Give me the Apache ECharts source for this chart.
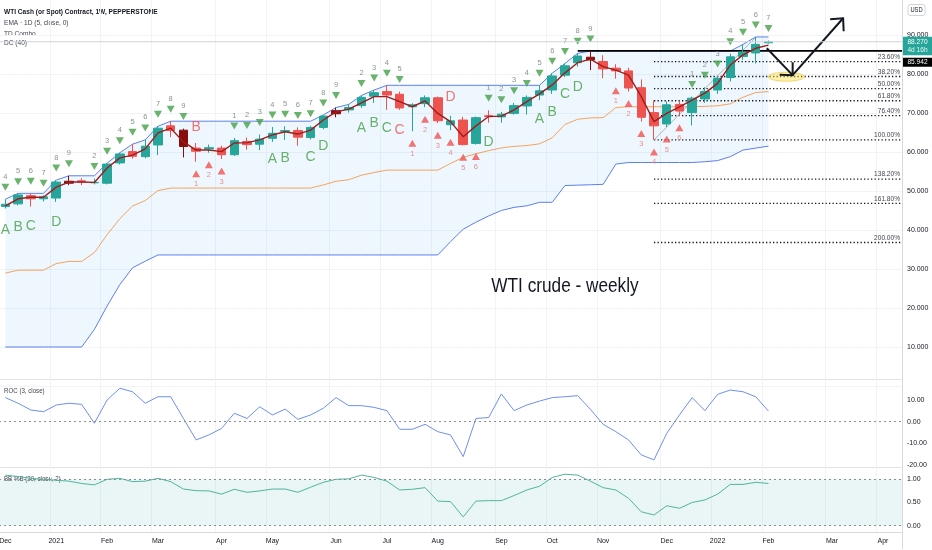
<!DOCTYPE html>
<html>
<head>
<meta charset="utf-8">
<title>WTI crude - weekly</title>
<script src="https://cdn.jsdelivr.net/npm/echarts/dist/echarts.min.js"></script>
<style>
html, body { margin: 0; padding: 0; background: #fff; }
#chart { width: 932px; height: 550px; }
</style>
</head>
<body>
<div id="chart"></div>
<script>
const FONT = "'Liberation Sans Narrow', 'Liberation Sans', Arial, sans-serif"
// the screenshot text is narrow, squeeze the free texts a bit
const SQUEEZE = 0.82

// weekly bars, Dec 7 2020 ... (61 drawn + empty weeks on the right)
const weekCount = 71
const weekDates = []
for (let i = 0; i < weekCount; i++) {
    weekDates.push(new Date(Date.UTC(2020, 11, 7 + 7 * i)).toISOString().slice(0, 10))
}
const monthTicks = {0: 'Dec', 4: '2021', 8: 'Feb', 12: 'Mar', 17: 'Apr', 21: 'May', 26: 'Jun',
    30: 'Jul', 34: 'Aug', 39: 'Sep', 43: 'Oct', 47: 'Nov', 52: 'Dec', 56: '2022', 60: 'Feb',
    65: 'Mar', 69: 'Apr'}

const opens = [46.0, 46.7, 48.8, 48.0, 48.2, 52.0, 52.6, 52.1, 52.0, 57.2,
    60.1, 58.8, 61.8, 66.7, 65.6, 61.0, 60.8, 61.0, 59.3, 62.7,
    62.0, 63.5, 65.3, 65.5, 63.7, 66.3, 69.8, 70.8, 71.9, 74.3,
    75.5, 74.8, 71.6, 72.4, 73.9, 67.0, 68.2, 62.2, 69.3, 69.0,
    69.9, 71.8, 74.6, 75.9, 79.7, 82.9, 84.3, 83.2, 81.5, 80.8,
    76.5, 70.1, 67.2, 72.2, 70.1, 73.6, 75.9, 79.1, 84.5, 85.4,
    88.0]
const closes = [46.6, 49.0, 48.0, 48.5, 52.3, 52.5, 52.3, 52.2, 56.9, 59.5,
    58.9, 61.5, 66.1, 65.5, 61.4, 60.2, 61.1, 59.3, 62.9, 61.9,
    63.3, 64.8, 65.5, 63.8, 66.3, 69.2, 70.6, 71.4, 74.0, 75.2,
    74.6, 71.3, 72.1, 73.9, 68.0, 68.0, 61.9, 68.8, 69.1, 69.7,
    71.9, 74.0, 75.7, 79.5, 82.1, 84.6, 83.6, 81.3, 80.8, 76.4,
    68.9, 66.7, 72.1, 70.5, 73.8, 75.5, 78.9, 84.4, 85.6, 87.6,
    88.27]
const lows = [45.5, 46.3, 46.0, 47.3, 47.2, 51.5, 51.5, 51.7, 51.7, 56.8,
    58.3, 58.4, 59.2, 63.8, 58.6, 57.5, 59.8, 58.2, 59.0, 60.6,
    60.5, 62.6, 63.1, 61.6, 63.2, 65.8, 68.9, 70.1, 71.3, 72.6,
    70.8, 70.8, 65.3, 71.5, 67.4, 65.6, 61.7, 61.9, 67.5, 67.5,
    69.6, 69.6, 73.3, 74.9, 79.2, 81.9, 81.0, 78.9, 78.8, 75.5,
    67.8, 63.1, 66.4, 69.3, 66.8, 72.6, 74.9, 78.1, 83.6, 82.7,
    87.8]
const highs = [47.9, 49.3, 49.4, 48.9, 52.8, 53.9, 53.3, 53.2, 57.1, 59.8,
    62.0, 63.1, 66.6, 67.9, 66.0, 62.3, 61.9, 61.6, 63.6, 63.7,
    64.5, 66.4, 66.6, 66.3, 66.7, 69.5, 71.4, 72.2, 74.5, 75.9,
    77.1, 75.5, 72.5, 74.5, 74.2, 69.3, 69.0, 69.1, 70.7, 70.3,
    72.6, 74.5, 77.1, 80.2, 82.7, 85.3, 85.9, 84.8, 82.5, 81.6,
    78.6, 73.2, 73.0, 73.0, 74.2, 76.6, 79.5, 85.2, 87.6, 89.5,
    88.6]
// bars painted dark red (setup count 9)
const nineBars = [5, 14, 26, 46]

const emaLine = [46.2, 48.0, 48.4, 48.4, 51.0, 52.3, 52.3, 52.2, 55.9, 58.5,
    59.2, 60.8, 64.9, 66.1, 62.6, 60.5, 60.5, 60.1, 62.3, 62.4,
    63.1, 64.4, 65.2, 64.6, 65.6, 68.2, 70.3, 71.0, 72.6, 74.2,
    74.2, 72.9, 71.6, 73.1, 69.9, 67.8, 63.9, 66.7, 69.1, 69.2,
    70.8, 72.9, 74.9, 77.2, 80.3, 82.9, 83.8, 81.9, 81.0, 79.7,
    74.2, 67.8, 69.9, 71.6, 73.3, 75.1, 77.6, 82.3, 84.9, 86.6,
    87.4]
const dcUpper = [47.9, 49.4, 49.4, 49.4, 52.8, 53.9, 53.9, 53.9, 57.1, 59.8,
    62.0, 63.1, 66.6, 67.9, 67.9, 67.9, 67.9, 67.9, 67.9, 67.9,
    67.9, 67.9, 67.9, 67.9, 67.9, 69.5, 71.4, 72.2, 74.5, 75.9,
    77.1, 77.1, 77.1, 77.1, 77.1, 77.1, 77.1, 77.1, 77.1, 77.1,
    77.1, 77.1, 77.1, 80.2, 82.7, 85.3, 85.9, 85.9, 85.9, 85.9,
    85.9, 85.9, 85.9, 85.9, 85.9, 85.9, 85.9, 85.9, 87.6, 89.5,
    89.5]
const dcLower = [10.0, 10.0, 10.0, 10.0, 10.0, 10.0, 10.0, 14.5, 20.5, 26.0,
    30.3, 32.0, 33.6, 33.6, 33.6, 33.6, 33.6, 33.6, 33.6, 33.6,
    33.6, 33.6, 33.6, 33.6, 33.6, 33.6, 33.6, 33.6, 33.6, 33.6,
    33.6, 33.6, 33.6, 33.6, 33.6, 37.0, 40.2, 42.0, 43.6, 45.0,
    45.8, 46.2, 47.1, 47.1, 51.4, 51.5, 51.6, 51.7, 56.9, 57.3,
    57.3, 57.3, 57.3, 57.3, 57.3, 57.5, 57.8, 58.8, 60.5, 61.0,
    61.5]

const rocValues = [11.1, 8.5, 5.4, 4.6, 7.7, 8.5, 8.0, -0.7, 10.0, 15.4,
    13.8, 8.5, 11.5, 11.5, 1.5, -8.4, -6.1, -3.1, 3.9, 1.5,
    6.9, 3.1, 5.8, 1.1, 3.1, 6.2, 11.1, 7.4, 7.4, 6.6,
    5.1, -3.5, -3.5, -1.2, -4.6, -6.1, -16.1, 1.5, 1.9, 12.8,
    5.1, 7.7, 9.5, 11.1, 11.5, 12.0, 5.7, -1.2, -4.6, -8.4,
    -15.3, -17.6, -5.4, 3.1, 11.1, 5.1, 12.6, 14.6, 13.8, 11.5,
    4.9]
const bbPercent = [1.09, 1.06, 1.02, 1.00, 0.98, 0.96, 0.91, 0.88, 1.00, 1.02,
    0.95, 0.96, 1.02, 0.95, 0.79, 0.755, 0.75, 0.68, 0.785, 0.72,
    0.75, 0.79, 0.79, 0.72, 0.83, 0.935, 1.00, 1.01, 1.09, 1.04,
    0.96, 0.77, 0.785, 0.82, 0.53, 0.52, 0.19, 0.53, 0.54, 0.54,
    0.65, 0.77, 0.85, 1.04, 1.11, 1.09, 0.96, 0.82, 0.77, 0.59,
    0.30, 0.23, 0.43, 0.375, 0.50, 0.555, 0.68, 0.89, 0.89, 0.935,
    0.91]

// TD combo marks: [bar, count]
const sellSetup = [[0, 4], [1, 5], [2, 6], [3, 7], [4, 8], [5, 9],
    [7, 2], [8, 3], [9, 4], [10, 5], [11, 6], [12, 7], [13, 8], [14, 9],
    [18, 1], [19, 2], [20, 3], [21, 4], [22, 5], [23, 6], [24, 7], [25, 8], [26, 9],
    [28, 2], [29, 3], [30, 4], [31, 5],
    [38, 1], [39, 2], [40, 3], [41, 4], [42, 5], [43, 6], [44, 7], [45, 8], [46, 9],
    [54, 1], [55, 2], [56, 3], [57, 4], [58, 5], [59, 6], [60, 7]]
const buySetup = [[15, 1], [16, 2], [17, 3],
    [32, 1], [33, 2], [34, 3], [35, 4], [36, 5], [37, 6],
    [48, 1], [49, 2], [50, 3], [51, 4], [52, 5], [53, 6]]
// countdown letters: [bar, letter, price level]
const greenLetters = [[0, 'A', 40.0], [1, 'B', 40.8], [2, 'C', 41.0], [4, 'D', 42.1],
    [21, 'A', 58.2], [22, 'B', 58.5], [24, 'C', 58.7], [25, 'D', 61.5],
    [28, 'A', 66.1], [29, 'B', 67.4], [30, 'C', 66.1], [38, 'D', 62.6],
    [42, 'A', 68.5], [43, 'B', 70.3], [44, 'C', 74.9], [45, 'D', 76.7]]
const redLetters = [[15, 'B', 66.5], [31, 'C', 65.6], [35, 'D', 74.0]]

// drawings
const fibLow = 63.1, fibHigh = 89.4, fibStartBar = 51, fibEndBar = 59
const fibRatios = [0.236, 0.382, 0.5, 0.618, 0.764, 1, 1.382, 1.618, 2]
const lastPrice = 88.27, hLinePrice = 85.942, hLineStartBar = 45
const arrows = [[59.87, 86.6, 61.9, 79.7], [61.9, 79.7, 65.87, 94.3]]
const ellipseAt = [61.4, 79.3]
const titleAt = [44, 25.7]

const TEAL = '#26a69a', RED = '#ef5350', MAROON = '#880e0e'
const GREEN = '#43a047'

function pxAt(api, x, y) {
    let i = Math.floor(x)
    let p = api.coord([i, y])
    let bw = api.size([1, 0])[0]
    return [p[0] + (x - i) * bw, p[1]]
}

// squeezed text element (graphic / custom)
function narrowText(x, y, text, style) {
    return {type: 'text', x: x, y: y, scaleX: SQUEEZE,
        style: Object.assign({text: text, x: 0, y: 0, fontFamily: FONT}, style)}
}

let candleData = opens.map((o, i) => {
    let item = {value: [o, closes[i], lows[i], highs[i]]}
    if (nineBars.indexOf(i) >= 0) {
        item.itemStyle = {color: MAROON, color0: MAROON, borderColor: MAROON, borderColor0: MAROON}
    }
    return item
})

const hiddenX = (gi) => ({
    type: 'category', gridIndex: gi, data: weekDates, boundaryGap: true,
    axisLine: {show: false}, axisTick: {show: false}, axisLabel: {show: false}, splitLine: {show: false}
})
const rightY = (gi, min, max, interval, fmt) => ({
    type: 'value', gridIndex: gi, position: 'right', min: min, max: max, interval: interval,
    axisLine: {show: true, lineStyle: {color: '#d6d9e0'}}, axisTick: {show: false},
    axisLabel: {fontSize: 7, color: '#131722', margin: 5, formatter: fmt},
    splitLine: {show: false}
})

let mainY = rightY(0, 0, 100, 10, v => (v <= 0 || v >= 100) ? '' : v.toFixed(3))
mainY.splitLine = {show: true, lineStyle: {color: '#f2f3f6'}}

let option = {
    animation: false,
    backgroundColor: '#fff',
    textStyle: {fontFamily: FONT},
    grid: [
        {left: -1, right: 30, top: -4, height: 390, containLabel: false, outerBoundsMode: 'none'},
        {left: -1, right: 30, top: 378.3, height: 86.8, containLabel: false, outerBoundsMode: 'none'},
        {left: -1, right: 30, top: 456.1, height: 92.8, containLabel: false, outerBoundsMode: 'none'},
        {left: -1, right: 30, top: 0, height: 532, containLabel: false, outerBoundsMode: 'none'}
    ],
    xAxis: [
        hiddenX(0), hiddenX(1), hiddenX(2),
        {
            type: 'category', gridIndex: 3, data: weekDates, boundaryGap: true,
            axisLine: {show: true, lineStyle: {color: '#d6d9e0'}}, axisTick: {show: false},
            axisLabel: {
                fontSize: 7, color: '#131722', margin: 6,
                interval: (i) => monthTicks[i] !== undefined,
                formatter: (v, i) => monthTicks[i] || ''
            },
            splitLine: {show: true, interval: (i) => monthTicks[i] !== undefined,
                lineStyle: {color: '#f2f3f6'}}
        }
    ],
    yAxis: [
        mainY,
        rightY(1, -20, 20, 10, v => v >= 20 ? '' : v.toFixed(2)),
        rightY(2, -0.5, 1.5, 0.5, v => (v < 0 || v > 1) ? '' : v.toFixed(2)),
        {type: 'value', gridIndex: 3, show: false, min: 0, max: 1}
    ],
    graphic: [
        narrowText(4, 11.7, 'WTI Cash (or Spot) Contract, 1W, PEPPERSTONE',
            {fontSize: 8, fontWeight: 'bold', fill: '#131722', verticalAlign: 'middle'}),
        narrowText(4, 22.3, 'EMA · 1D (5, close, 0)', {fontSize: 8, fill: '#434651', verticalAlign: 'middle'}),
        narrowText(4, 33.3, 'TD Combo', {fontSize: 8, fill: '#434651', verticalAlign: 'middle'}),
        narrowText(4, 42.7, 'DC (40)', {fontSize: 8, fill: '#434651', verticalAlign: 'middle'}),
        narrowText(4, 390.7, 'ROC (3, close)', {fontSize: 7.5, fill: '#434651', verticalAlign: 'middle'}),
        narrowText(4, 479, 'BB %B (20, close, 2)', {fontSize: 7.5, fill: '#434651', verticalAlign: 'middle'}),
        {type: 'line', shape: {x1: 0, y1: 379.5, x2: 902, y2: 379.5}, style: {stroke: '#e0e3eb', lineWidth: 1}},
        {type: 'line', shape: {x1: 0, y1: 467.5, x2: 902, y2: 467.5}, style: {stroke: '#e0e3eb', lineWidth: 1}},
        {type: 'rect', shape: {x: 908, y: 4.5, width: 17, height: 11, r: 2},
            style: {fill: '#fff', stroke: '#d1d4dc', lineWidth: 1}},
        narrowText(916.5, 10.2, 'USD', {fontSize: 7, fill: '#131722', align: 'center', verticalAlign: 'middle'})
    ],
    series: [
        // Donchian channel fill
        {type: 'line', xAxisIndex: 0, yAxisIndex: 0, data: dcLower, stack: 'dcFill', symbol: 'none',
            lineStyle: {opacity: 0}, silent: true, z: 1},
        {type: 'line', xAxisIndex: 0, yAxisIndex: 0, stack: 'dcFill', symbol: 'none', silent: true, z: 1,
            data: dcUpper.map((u, i) => +(u - dcLower[i]).toFixed(2)),
            lineStyle: {opacity: 0}, areaStyle: {color: 'rgba(33,150,243,0.08)', opacity: 1}},
        {type: 'line', name: 'DC upper', xAxisIndex: 0, yAxisIndex: 0, data: dcUpper, symbol: 'none',
            lineStyle: {color: '#5d7ff0', width: 1}, z: 2},
        {type: 'line', name: 'DC lower', xAxisIndex: 0, yAxisIndex: 0, data: dcLower, symbol: 'none',
            lineStyle: {color: '#5d7ff0', width: 1}, z: 2},
        {type: 'line', name: 'DC basis', xAxisIndex: 0, yAxisIndex: 0, symbol: 'none',
            data: dcUpper.map((u, i) => (u + dcLower[i]) / 2),
            lineStyle: {color: '#f5a25d', width: 1}, z: 2},
        // fib retracement
        {type: 'custom', xAxisIndex: 0, yAxisIndex: 0, clip: false, z: 3, silent: true,
            data: fibRatios.map(r => [fibStartBar, fibHigh - r * (fibHigh - fibLow), r]),
            renderItem: (params, api) => {
                let p = api.coord([api.value(0), api.value(1)])
                let right = params.coordSys.x + params.coordSys.width
                return {type: 'group', children: [
                    {type: 'line', shape: {x1: p[0], y1: p[1], x2: right, y2: p[1]},
                        style: {stroke: '#131722', lineWidth: 1.3, lineDash: [1.3, 2.2]}},
                    narrowText(right - 2, p[1] - 1, (api.value(2) * 100).toFixed(2) + '%',
                        {align: 'right', verticalAlign: 'bottom', fontSize: 8, fill: '#434651'})
                ]}
            }},
        {type: 'custom', xAxisIndex: 0, yAxisIndex: 0, clip: false, z: 3, silent: true,
            data: [[fibStartBar, fibLow, fibEndBar, fibHigh]],
            renderItem: (params, api) => {
                let a = api.coord([api.value(0), api.value(1)])
                let b = api.coord([api.value(2), api.value(3)])
                return {type: 'line', shape: {x1: a[0], y1: a[1], x2: b[0], y2: b[1]},
                    style: {stroke: '#9ea1aa', lineWidth: 0.8}}
            }},
        // horizontal level
        {type: 'custom', xAxisIndex: 0, yAxisIndex: 0, clip: false, z: 3, silent: true,
            data: [[hLineStartBar, hLinePrice]],
            renderItem: (params, api) => {
                let p = api.coord([api.value(0), api.value(1)])
                let right = params.coordSys.x + params.coordSys.width
                return {type: 'line', shape: {x1: p[0], y1: p[1], x2: right, y2: p[1]},
                    style: {stroke: '#000', lineWidth: 1.8}}
            }},
        // EMA
        {type: 'line', name: 'EMA', xAxisIndex: 0, yAxisIndex: 0, data: emaLine, symbol: 'none',
            lineStyle: {color: '#a11c1c', width: 1.4}, z: 5},
        // candles
        {type: 'candlestick', name: 'WTI', xAxisIndex: 0, yAxisIndex: 0, barWidth: 9, z: 4,
            data: candleData,
            itemStyle: {color: TEAL, color0: RED, borderColor: TEAL, borderColor0: RED, borderWidth: 1}},
        // TD setups
        {type: 'scatter', xAxisIndex: 0, yAxisIndex: 0, z: 6, silent: true,
            data: sellSetup.map(([b, c]) => ({value: [b, highs[b]], name: String(c)})),
            symbol: 'path://M0,0L10,0L5,8.5Z', symbolSize: [8, 7], symbolOffset: [0, -12],
            itemStyle: {color: GREEN},
            label: {show: true, position: 'top', distance: 3, formatter: '{b}', fontSize: 7.5,
                color: '#6b7a72', fontFamily: FONT}},
        {type: 'scatter', xAxisIndex: 0, yAxisIndex: 0, z: 6, silent: true,
            data: buySetup.map(([b, c]) => ({value: [b, lows[b]], name: String(c)})),
            symbol: 'triangle', symbolSize: [8, 7], symbolOffset: [0, 12],
            itemStyle: {color: RED},
            label: {show: true, position: 'bottom', distance: 3, formatter: '{b}', fontSize: 7.5,
                color: '#e57373', fontFamily: FONT}},
        {type: 'scatter', xAxisIndex: 0, yAxisIndex: 0, z: 6, silent: true,
            data: greenLetters.map(([b, t, lv]) => ({value: [b, lv], name: t})),
            symbolSize: 1, itemStyle: {color: 'rgba(0,0,0,0)'},
            label: {show: true, position: 'inside', formatter: '{b}', fontSize: 14, color: GREEN,
                fontFamily: FONT}},
        {type: 'scatter', xAxisIndex: 0, yAxisIndex: 0, z: 6, silent: true,
            data: redLetters.map(([b, t, lv]) => ({value: [b, lv], name: t})),
            symbolSize: 1, itemStyle: {color: 'rgba(0,0,0,0)'},
            label: {show: true, position: 'inside', formatter: '{b}', fontSize: 14, color: RED,
                fontFamily: FONT}},
        // arrows
        {type: 'custom', xAxisIndex: 0, yAxisIndex: 0, clip: false, z: 7, silent: true,
            data: arrows.map((a, i) => [i, 0]),
            renderItem: (params, api) => {
                let a = arrows[params.dataIndex]
                let p1 = pxAt(api, a[0], a[1]), p2 = pxAt(api, a[2], a[3])
                let back = Math.atan2(p2[1] - p1[1], p2[0] - p1[0]) + Math.PI
                let sp = 44 * Math.PI / 180, L = 13
                let arm1 = [p2[0] + L * Math.cos(back + sp), p2[1] + L * Math.sin(back + sp)]
                let arm2 = [p2[0] + L * Math.cos(back - sp), p2[1] + L * Math.sin(back - sp)]
                return {type: 'group', children: [
                    {type: 'polyline', shape: {points: [p1, p2]}, style: {stroke: '#131722', lineWidth: 2, fill: null}},
                    {type: 'polyline', shape: {points: [arm1, p2, arm2]}, style: {stroke: '#131722', lineWidth: 2, fill: null}}
                ]}
            }},
        // highlight ellipse
        {type: 'custom', xAxisIndex: 0, yAxisIndex: 0, clip: false, z: 3, silent: true,
            data: [[0, 0]],
            renderItem: (params, api) => {
                let c = pxAt(api, ellipseAt[0], ellipseAt[1])
                let pts = []
                for (let k = 0; k < 40; k++) {
                    let t = k / 40 * Math.PI * 2
                    pts.push([c[0] + 18 * Math.cos(t), c[1] + 4.5 * Math.sin(t)])
                }
                return {type: 'polygon', shape: {points: pts},
                    style: {fill: 'rgba(255,225,70,0.45)', stroke: 'rgba(240,200,60,0.7)', lineWidth: 1}}
            }},
        // chart note
        {type: 'custom', xAxisIndex: 0, yAxisIndex: 0, clip: false, z: 7, silent: true,
            data: [titleAt],
            renderItem: (params, api) => {
                let p = api.coord([api.value(0), api.value(1)])
                return narrowText(p[0], p[1], 'WTI crude - weekly',
                    {align: 'center', verticalAlign: 'middle', fontSize: 21, fill: '#131722'})
            }},
        // last price line and axis tags
        {type: 'custom', xAxisIndex: 0, yAxisIndex: 0, clip: false, z: 8, silent: true,
            data: [[0, 0]],
            renderItem: (params, api) => {
                let cs = params.coordSys
                let right = cs.x + cs.width
                let y1 = api.coord([0, lastPrice])[1]
                let y2 = api.coord([0, hLinePrice])[1]
                let top1 = y1 - 5, h1 = 18.5
                let top2 = Math.max(y2 - 4.5, top1 + h1 + 2.5)
                return {type: 'group', children: [
                    {type: 'line', shape: {x1: cs.x, y1: y1, x2: right, y2: y1},
                        style: {stroke: '#cfd4dc', lineWidth: 1}},
                    {type: 'rect', shape: {x: right + 1, y: top1, width: 29, height: h1},
                        style: {fill: TEAL}},
                    narrowText(right + 15.5, y1, lastPrice.toFixed(3),
                        {align: 'center', verticalAlign: 'middle', fontSize: 8, fill: '#fff'}),
                    narrowText(right + 15.5, y1 + 8.5, '4d 16h',
                        {align: 'center', verticalAlign: 'middle', fontSize: 8, fill: '#e6f5f3'}),
                    {type: 'rect', shape: {x: right + 1, y: top2, width: 29, height: 9},
                        style: {fill: '#000'}},
                    narrowText(right + 15.5, top2 + 4.5, hLinePrice.toFixed(3),
                        {align: 'center', verticalAlign: 'middle', fontSize: 8, fill: '#fff'})
                ]}
            }},
        // ROC pane
        {type: 'line', name: 'ROC', xAxisIndex: 1, yAxisIndex: 1, data: rocValues, symbol: 'none',
            lineStyle: {color: '#6f8ff0', width: 1},
            markLine: {silent: true, symbol: 'none', label: {show: false},
                lineStyle: {color: '#8a8d96', type: [2, 3], width: 1},
                data: [{yAxis: 0}]}},
        // BB %B pane
        {type: 'line', name: 'BB %B', xAxisIndex: 2, yAxisIndex: 2, data: bbPercent, symbol: 'none',
            lineStyle: {color: '#4fb59e', width: 1},
            markLine: {silent: true, symbol: 'none', label: {show: false},
                lineStyle: {color: '#8a8d96', type: [2, 3], width: 1},
                data: [{yAxis: 1}, {yAxis: 0}]},
            markArea: {silent: true, itemStyle: {color: 'rgba(38,166,154,0.1)'},
                data: [[{yAxis: 0}, {yAxis: 1}]]}}
    ]
}

let chart = echarts.init(document.getElementById('chart'))
chart.setOption(option)
</script>
</body>
</html>
